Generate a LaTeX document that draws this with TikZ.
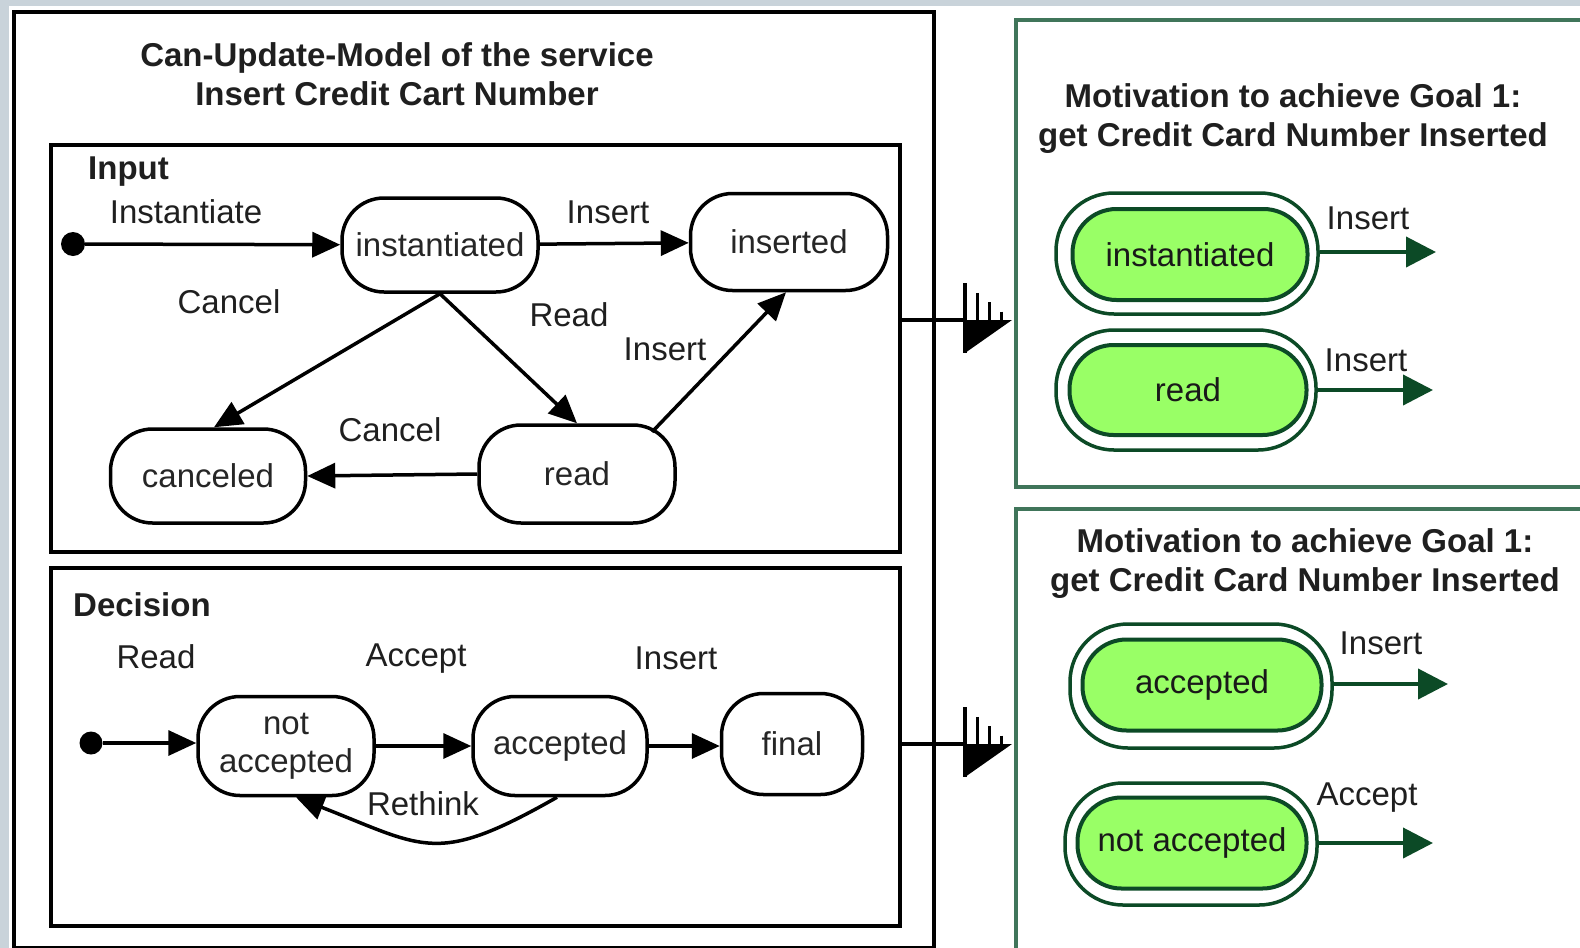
\documentclass[tikz,border=0pt]{standalone}
\usepackage{fontspec}
\setmainfont{Liberation Sans}
\usetikzlibrary{arrows.meta}
\definecolor{bgc}{HTML}{C9D3DA}
\definecolor{pgreen}{HTML}{40755A}
\definecolor{dgreen}{HTML}{0C4A26}
\definecolor{lgreen}{HTML}{99FF66}
\begin{document}
\begin{tikzpicture}[x=1pt,y=-1pt,
  lbl/.style={inner sep=0pt, font=\fontsize{33}{38}\selectfont, text=black!88},
  hdr/.style={inner sep=0pt, font=\bfseries\fontsize{33}{38}\selectfont, text=black!88},
  ttl/.style={inner sep=0pt, align=center, font=\bfseries\fontsize{33}{39}\selectfont, text=black!88},
  st/.style={draw=black, line width=3.5pt, rounded corners=42pt, inner sep=0pt, fill=white,
    font=\fontsize{33}{38}\selectfont, text=black!85},
  box/.style={draw=black, line width=3.5pt, inner sep=0pt, anchor=north west},
  pbox/.style={draw=pgreen, line width=4pt, inner sep=0pt, anchor=north west},
  dotnode/.style={circle, fill=black, inner sep=0pt},
  arr/.style={line width=3.5pt, -{Triangle[length=28pt,width=25pt]}},
  gout/.style={draw=dgreen, line width=3.5pt, rounded corners=58pt, inner sep=0pt, fill=white},
  gin/.style={draw=dgreen, line width=4pt, rounded corners=44pt, inner sep=0pt, fill=lgreen,
    font=\fontsize{33}{38}\selectfont, text=black!90},
  garr/.style={draw=dgreen, line width=4pt, -{Triangle[length=30pt,width=30pt]}},
  trident/.pic={
    \fill (0,0) -- (47,0) -- (0,33) -- cycle;
    \draw[line width=4pt] (0,-37) -- (0,33);
    \foreach \xx in {12.5,24.5,36.5} {\draw[line width=3.5pt] (\xx,{-37+\xx*37/47}) -- (\xx,0);}
  }
]
\clip (0,0) rectangle (1580,948);
\fill[bgc] (0,0) rectangle (1580,948);
\fill[white] (9,6) rectangle (1580,948);

% boxes
\node[box, minimum width=920pt, minimum height=936pt] (outer) at (12,10) {};
\node[box, minimum width=849pt, minimum height=407pt] (inbox) at (49,143) {};
\node[box, minimum width=849pt, minimum height=358pt] (decbox) at (49,566) {};
\node[pbox, minimum width=600pt, minimum height=467pt] (rtop) at (1014,18) {};
\node[pbox, minimum width=600pt, minimum height=460pt] (rbot) at (1014,507) {};

% title
\node[ttl] (title) at (397,74) {Can-Update-Model of the service\\Insert Credit Cart Number};
\node[hdr, anchor=west] (hin) at (88,172) {Input};
\node[hdr, anchor=west] (hdec) at (73,605) {Decision};

% input states
\node[dotnode, minimum size=24pt] (i1) at (73,244) {};
\node[st, minimum width=196pt, minimum height=94pt] (inst) at (440,245) {instantiated};
\node[st, minimum width=197pt, minimum height=97pt] (ins) at (789,242) {inserted};
\node[st, minimum width=195pt, minimum height=94pt] (canc) at (208,476) {canceled};
\node[st, minimum width=196pt, minimum height=98pt] (rd) at (577,474) {read};

\draw[arr] (i1) -- (inst);
\draw[arr] (inst) -- (ins);
\draw[arr] (inst.south) -- (canc.83);
\draw[arr] (inst.south) -- (rd.north);
\draw[arr] (rd.west) -- (canc.east);
\draw[arr] ([shift={(75,-42)}]rd.center) -- ([xshift=-3pt]ins.south);

\node[lbl] (l1) at (186,212) {Instantiate};
\node[lbl] (l2) at (608,212) {Insert};
\node[lbl] (l3) at (229,302) {Cancel};
\node[lbl] (l4) at (569,315) {Read};
\node[lbl] (l5) at (665,349) {Insert};
\node[lbl] (l6) at (390,430) {Cancel};

% decision states
\node[dotnode, minimum size=23pt] (i2) at (91,743) {};
\node[st, minimum width=176pt, minimum height=99pt, align=center] (nacc) at (286,746) {not\\accepted};
\node[st, minimum width=174pt, minimum height=99pt] (acc) at (560,746) {accepted};
\node[st, minimum width=141pt, minimum height=101pt] (fin) at (792,744) {final};

\draw[arr] (i2) -- (nacc.west |- i2);
\draw[arr] (nacc) -- (acc);
\draw[arr] (acc.west -| acc.east) -- (fin.west |- acc.east);
\draw[arr] ([xshift=-3pt]acc.south) .. controls (436,866) and (426,848) .. ([xshift=10pt]nacc.south);

\node[lbl] (l7) at (156,657) {Read};
\node[lbl] (l8) at (416,659) {Accept};
\node[lbl] (l9) at (676,658) {Insert};
\node[lbl] (l10) at (423,804) {Rethink};

% tridents
\coordinate (tr1) at (965,320);
\coordinate (tr2) at (965,744);
\draw[line width=3.5pt] (inbox.east |- tr1) -- (tr1);
\draw[line width=3.5pt] (decbox.east |- tr2) -- (tr2);
\pic at (tr1) {trident};
\pic at (tr2) {trident};

% right panels
\node[ttl] (t1) at (1293,119) {Motivation to achieve Goal 1:\\get Credit Card Number Inserted};
\node[ttl] (t2) at (1305,564) {Motivation to achieve Goal 1:\\get Credit Card Number Inserted};

\node[gout, minimum width=262pt, minimum height=121pt] (g1o) at (1187,253.5) {};
\node[gin, minimum width=235pt, minimum height=91pt] (g1) at (1190,254.5) {instantiated};
\coordinate (g1e) at (1436,252);
\draw[garr] (g1o.east |- g1e) -- (g1e);
\node[lbl] (gl1) at (1368,218) {Insert};

\node[gout, minimum width=260pt, minimum height=120pt] (g2o) at (1186,390) {};
\node[gin, minimum width=237pt, minimum height=90pt] (g2) at (1188,390) {read};
\coordinate (g2e) at (1433,390);
\draw[garr] (g2o.east |- g2e) -- (g2e);
\node[lbl] (gl2) at (1366,360) {Insert};

\node[gout, minimum width=262pt, minimum height=124pt] (g3o) at (1201,686) {};
\node[gin, minimum width=239pt, minimum height=91pt] (g3) at (1202,685) {accepted};
\coordinate (g3e) at (1448,684);
\draw[garr] (g3o.east |- g3e) -- (g3e);
\node[lbl] (gl3) at (1381,643) {Insert};

\node[gout, minimum width=252pt, minimum height=122pt] (g4o) at (1191,844) {};
\node[gin, minimum width=229pt, minimum height=91pt] (g4) at (1192,843) {not accepted};
\coordinate (g4e) at (1433,843);
\draw[garr] (g4o.east |- g4e) -- (g4e);
\node[lbl] (gl4) at (1367,798) {Accept};
\end{tikzpicture}
\end{document}
